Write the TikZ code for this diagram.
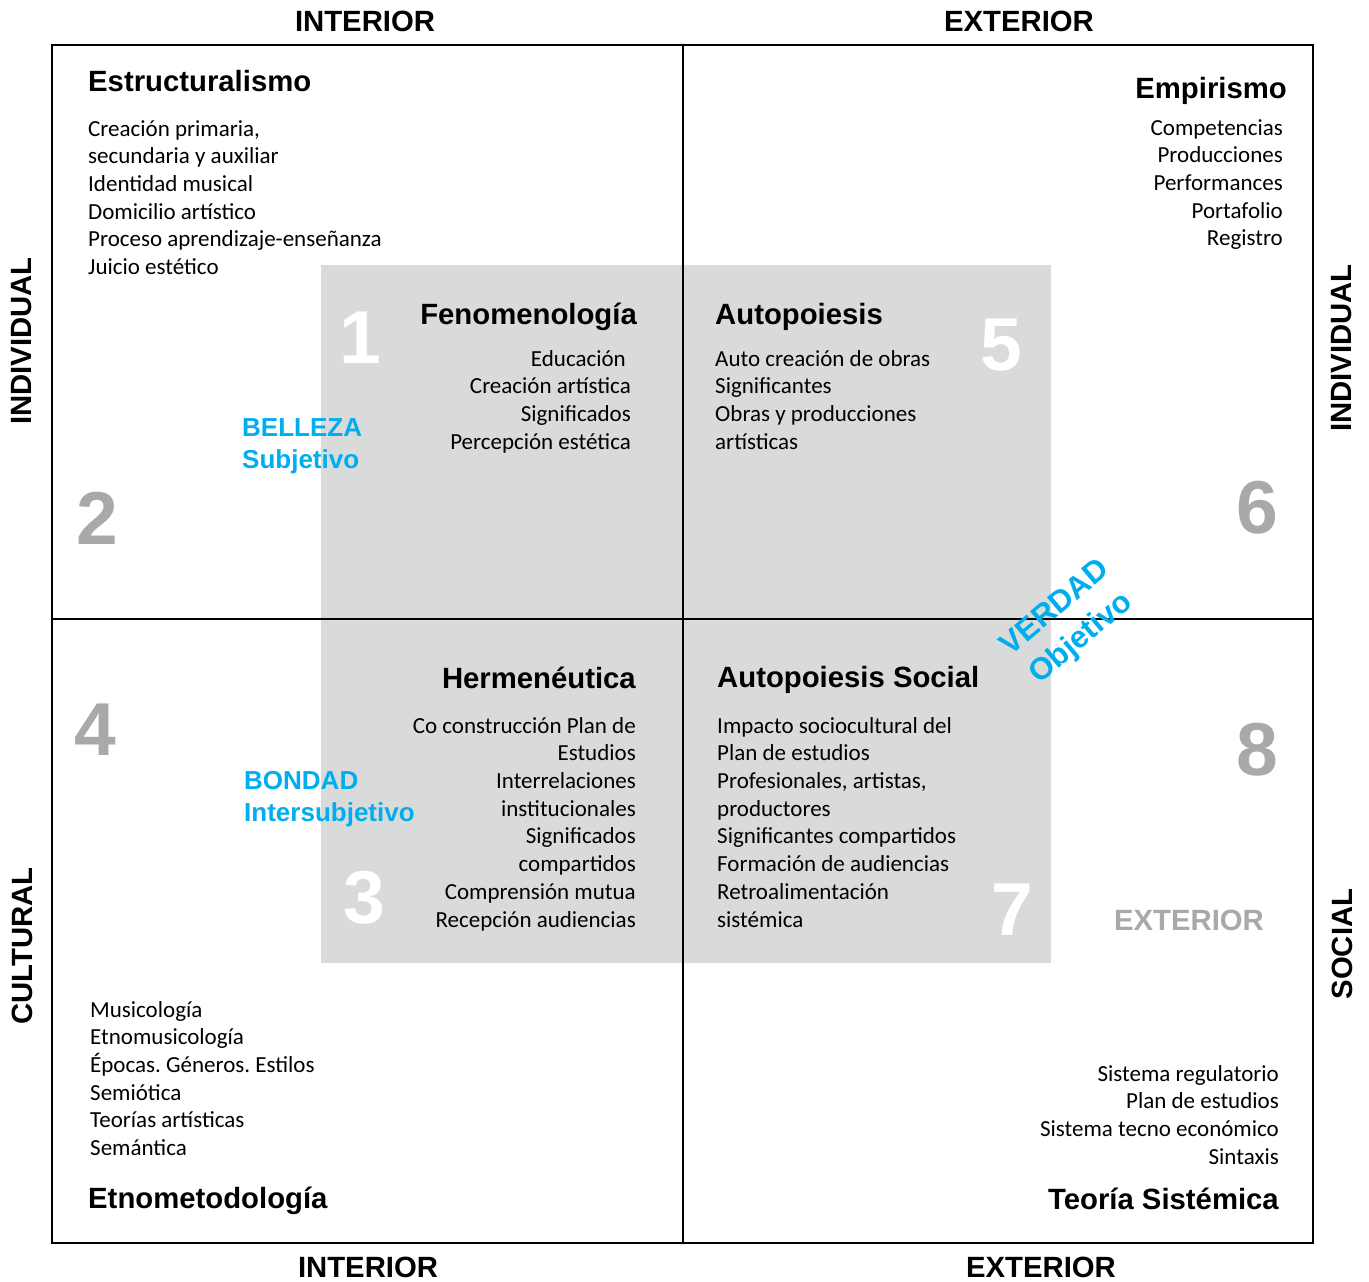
\documentclass[tikz,border=0pt]{standalone}
\usepackage{fontspec}
\setmainfont{Carlito}
\newfontfamily\arialfont{Liberation Sans}
\frenchspacing
\definecolor{boxgray}{HTML}{D9DADA}
\definecolor{numgray}{HTML}{A7A9AB}
\definecolor{valblue}{HTML}{00AEEF}
\tikzset{
  listtext/.style={font=\fontsize{23}{27.7}\selectfont, inner sep=0pt},
  quadtitle/.style={font=\arialfont\bfseries\fontsize{29.3}{34}\selectfont, inner sep=0pt},
  axislabel/.style={quadtitle},
  bignum/.style={font=\arialfont\bfseries\fontsize{75}{80}\selectfont, inner sep=0pt},
  valor/.style={font=\arialfont\bfseries\fontsize{26}{32}\selectfont, text=valblue, inner sep=0pt, align=left},
}
\begin{document}
\begin{tikzpicture}[x=1pt, y=-1pt]
  \useasboundingbox[fill=white] (0,0) rectangle (1369,1282);
  % shaded middle area, then the quadrants
  \fill[boxgray] (321,265) rectangle (1051,963);
  \draw[line width=2pt] (52,45) rectangle (1313,1243);
  \draw[line width=2pt] (683,45) -- (683,1243);
  \draw[line width=2pt] (52,619) -- (1313,619);

  % axes
  \node[axislabel] (int1) at (365,21) {INTERIOR};
  \node[axislabel] (ext1) at (1019,21) {EXTERIOR};
  \node[axislabel] (int2) at (368,1267) {INTERIOR};
  \node[axislabel] (ext2) at (1041,1267) {EXTERIOR};
  \node[axislabel, rotate=90] (ind1) at (22,341) {INDIVIDUAL};
  \node[axislabel, rotate=90] (cult) at (22,946) {CULTURAL};
  \node[axislabel, rotate=90] (ind2) at (1342,348) {INDIVIDUAL};
  \node[axislabel, rotate=90] (soc) at (1342,944) {SOCIAL};
  \node[axislabel, text=numgray] (ext3) at (1189,920) {EXTERIOR};

  % outer quadrants
  \node[quadtitle, anchor=base west] (estr) at (88,91.5) {Estructuralismo};
  \node[listtext, anchor=north west, align=left] (estrl) at (88,120)
    {Creación primaria,\\secundaria y auxiliar\\Identidad musical\\Domicilio artístico\\Proceso aprendizaje-enseñanza\\Juicio estético};
  \node[quadtitle, anchor=base east] (emp) at (1287,98.5) {Empirismo};
  \node[listtext, anchor=north east, align=right] (empl) at (1283,119)
    {Competencias\\Producciones\\Performances\\Portafolio\\Registro};
  \node[listtext, anchor=north west, align=left] (etnol) at (90,1001)
    {Musicología\\Etnomusicología\\Épocas. Géneros. Estilos\\Semiótica\\Teorías artísticas\\Semántica};
  \node[quadtitle, anchor=base west] (etno) at (88,1208.5) {Etnometodología};
  \node[listtext, anchor=north east, align=right] (sistl) at (1279,1065)
    {Sistema regulatorio\\Plan de estudios\\Sistema tecno económico\\Sintaxis};
  \node[quadtitle, anchor=base east] (sist) at (1279,1209.5) {Teoría Sistémica};

  % inner quadrants
  \node[quadtitle, anchor=base east] (feno) at (637,324.5) {Fenomenología};
  \node[listtext, anchor=north east, align=right] (fenol) at (631,350)
    {Educación\hspace*{5pt}\\Creación artística\\Significados\\Percepción estética};
  \node[quadtitle, anchor=base west] (auto) at (715,324.5) {Autopoiesis};
  \node[listtext, anchor=north west, align=left] (autol) at (715,350)
    {Auto creación de obras\\Significantes\\Obras y producciones\\artísticas};
  \node[quadtitle, anchor=base east] (herm) at (636,688.5) {Hermenéutica};
  \node[listtext, anchor=north east, align=right] (herml) at (636,717)
    {Co construcción Plan de\\Estudios\\Interrelaciones\\institucionales\\Significados\\compartidos\\Comprensión mutua\\Recepción audiencias};
  \node[quadtitle, anchor=base west] (autos) at (717,687.5) {Autopoiesis Social};
  \node[listtext, anchor=north west, align=left] (autosl) at (717,717)
    {Impacto sociocultural del\\Plan de estudios\\Profesionales, artistas,\\productores\\Significantes compartidos\\Formación de audiencias\\Retroalimentación\\sistémica};

  % numbers
  \node[bignum, text=white] (n1) at (360,338) {1};
  \node[bignum, text=numgray] (n2) at (97,518) {2};
  \node[bignum, text=white] (n3) at (364,898) {3};
  \node[bignum, text=numgray] (n4) at (95,730) {4};
  \node[bignum, text=white] (n5) at (1001,345) {5};
  \node[bignum, text=numgray] (n6) at (1257,508) {6};
  \node[bignum, text=white] (n7) at (1012,910) {7};
  \node[bignum, text=numgray] (n8) at (1257,750) {8};

  % values
  \node[valor, anchor=north west] (belleza) at (242,418.7) {BELLEZA\\Subjetivo};
  \node[valor, anchor=north west] (bondad) at (244,770.7) {BONDAD\\Intersubjetivo};
  \node[valor, align=center, rotate=40, font=\arialfont\bfseries\fontsize{31}{40}\selectfont] (verdad) at (1069,624) {VERDAD\\Objetivo};
\end{tikzpicture}
\end{document}
